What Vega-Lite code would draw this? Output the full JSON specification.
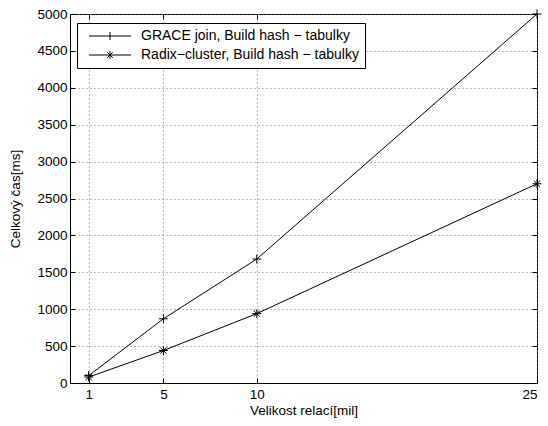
{
  "$schema": "https://vega.github.io/schema/vega-lite/v6.json",
  "width": 467,
  "height": 369,
  "autosize": "none",
  "padding": {"left": 70, "top": 14, "right": 11, "bottom": 43},
  "background": "white",
  "config": {
    "view": {"stroke": "black", "strokeWidth": 1},
    "font": "Liberation Sans",
    "axis": {
      "domainColor": "black",
      "tickColor": "black",
      "labelColor": "black",
      "titleColor": "black",
      "labelFont": "Liberation Sans",
      "titleFont": "Liberation Sans",
      "labelFontSize": 13.5,
      "titleFontSize": 13.5,
      "titleFontWeight": "normal",
      "gridColor": "#777777",
      "gridDash": [1, 3],
      "gridOpacity": 1,
      "gridWidth": 1,
      "tickSize": -5,
      "format": "d"
    }
  },
  "data": {
    "values": [
      {"n": 1, "t": 100, "s": "GRACE join, Build hash − tabulky"},
      {"n": 5, "t": 870, "s": "GRACE join, Build hash − tabulky"},
      {"n": 10, "t": 1680, "s": "GRACE join, Build hash − tabulky"},
      {"n": 25, "t": 5000, "s": "GRACE join, Build hash − tabulky"},
      {"n": 1, "t": 80, "s": "Radix−cluster, Build hash − tabulky"},
      {"n": 5, "t": 440, "s": "Radix−cluster, Build hash − tabulky"},
      {"n": 10, "t": 940, "s": "Radix−cluster, Build hash − tabulky"},
      {"n": 25, "t": 2700, "s": "Radix−cluster, Build hash − tabulky"}
    ]
  },
  "layer": [
    {
      "mark": {"type": "line", "color": "black", "strokeWidth": 1},
      "encoding": {
        "x": {"field": "n", "type": "quantitative", "scale": {"domain": [0, 25], "nice": false},
          "axis": {"values": [1, 5, 10, 25], "format": "d", "title": "Velikost relací[mil]", "labelPadding": 9, "titlePadding": 3, "grid": true}},
        "y": {"field": "t", "type": "quantitative", "scale": {"domain": [0, 5000], "nice": false},
          "axis": {"values": [0,500,1000,1500,2000,2500,3000,3500,4000,4500,5000], "format": "d", "title": "Celkový čas[ms]", "labelPadding": 8, "titlePadding": 14, "grid": true}},
        "detail": {"field": "s"}
      }
    },
    {
      "mark": {"type": "point", "filled": false, "stroke": "black", "strokeWidth": 1, "size": 80, "opacity": 1},
      "encoding": {
        "x": {"field": "n", "type": "quantitative", "axis": {"orient": "top", "values": [1, 5, 10, 25], "labels": false, "title": null, "grid": false, "domain": false}},
        "y": {"field": "t", "type": "quantitative", "axis": {"orient": "right", "values": [0,500,1000,1500,2000,2500,3000,3500,4000,4500,5000], "labels": false, "title": null, "grid": false, "domain": false}},
        "shape": {
          "field": "s",
          "type": "nominal",
          "scale": {
            "domain": ["GRACE join, Build hash − tabulky", "Radix−cluster, Build hash − tabulky"],
            "range": ["M-1,0H1M0,-1V1", "M-1,0H1M0,-1V1M-0.7,-0.7L0.7,0.7M-0.7,0.7L0.7,-0.7"]
          },
          "legend": null
        }
      }
    },
    {
      "transform": [{"filter": "datum.n < 0"}],
      "mark": {"type": "point", "filled": false, "stroke": "black", "strokeWidth": 1, "size": 100, "opacity": 1},
      "encoding": {
        "x": {"field": "n", "type": "quantitative", "axis": null},
        "y": {"field": "t", "type": "quantitative", "axis": null},
        "shape": {
          "field": "s",
          "type": "nominal",
          "scale": {
            "domain": ["GRACE join, Build hash − tabulky", "Radix−cluster, Build hash − tabulky"],
            "range": ["M-4.2,0H4.2M0,-0.8V0.8", "M-4.2,0H4.2M0,-0.8V0.8M-0.57,-0.57L0.57,0.57M-0.57,0.57L0.57,-0.57"]
          },
          "legend": {
            "title": null,
            "orient": "none",
            "legendX": 7,
            "legendY": 9,
            "direction": "vertical",
            "fillColor": "white",
            "strokeColor": "black",
            "padding": 6,
            "symbolSize": 100,
            "symbolOffset": 20,
            "symbolStrokeWidth": 1,
            "symbolStrokeColor": "black",
            "symbolFillColor": "transparent",
            "symbolOpacity": 1,
            "labelFontSize": 14,
            "labelFont": "Liberation Sans",
            "labelColor": "black",
            "labelOffset": 24,
            "rowPadding": 5,
            "labelLimit": 400
          }
        }
      }
    }
  ],
  "resolve": {"axis": {"x": "independent", "y": "independent"}, "scale": {"shape": "independent"}}
}
